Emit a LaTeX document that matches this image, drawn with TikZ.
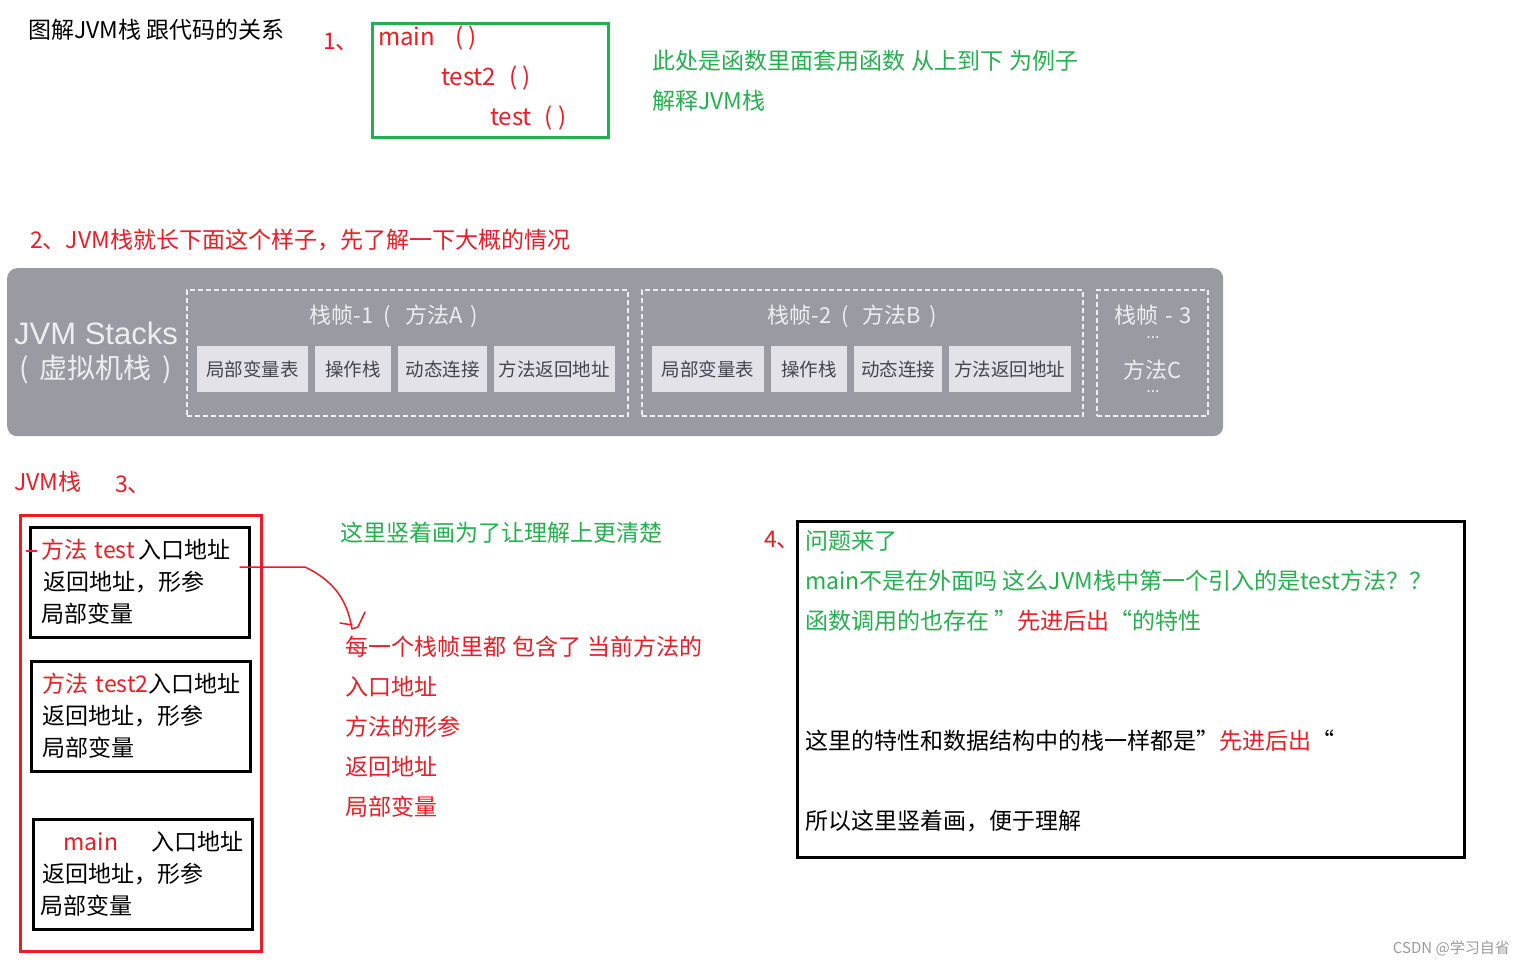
\documentclass[tikz,border=0pt]{standalone}
\usepackage{fontspec}
\setmainfont{Noto Sans CJK SC}
\newfontfamily\arialfont{Liberation Sans}
\usepackage{tikz}
\usetikzlibrary{positioning, calc}
\definecolor{paintred}{HTML}{ED1C24}
\definecolor{paintgreen}{HTML}{22B14C}
\definecolor{stackgray}{HTML}{9A9AA3}
\definecolor{cellgray}{HTML}{E2E2E8}
\definecolor{celltext}{HTML}{45454F}
\definecolor{fadewhite}{HTML}{EEEEF2}
\definecolor{markgray}{HTML}{9A9A9A}

\tikzset{
  txt/.style={inner sep=0pt, anchor=west, font=\fontsize{23}{28}\selectfont},
  cell/.style={fill=cellgray, text=celltext, minimum height=46pt, inner sep=0pt, font=\fontsize{18.5}{20}\selectfont},
  dashframe/.style={draw=fadewhite, line width=1.3pt, dash pattern=on 5pt off 3pt, minimum width=441pt, minimum height=126pt, inner sep=0pt},
  frametitle/.style={text=fadewhite, inner sep=0pt, font=\fontsize{22}{24}\selectfont},
  stackbox/.style={draw=black, line width=3pt, minimum width=219pt, minimum height=110pt, text width=197pt, inner xsep=11pt, align=left, font=\fontsize{23}{32}\selectfont},
  handline/.style={draw=paintred, line width=1.5pt, line cap=round, line join=round},
}

\begin{document}
\begin{tikzpicture}[x=1pt, y=-1pt]
\useasboundingbox (0,0) rectangle (1526,967);

% 1. call order
\node[txt] (title) at (28,30) {图解JVM栈 跟代码的关系};
\node[txt, text=paintred] (stepone) at (323,42) {1、};
\node[draw=paintgreen, line width=3pt, minimum width=236pt, minimum height=114pt, inner sep=0pt, anchor=north west] (callbox) at (371,22) {};
\node[txt, text=paintred, font=\fontsize{24}{28}\selectfont] (callmain) at (378,38) {main\hspace{20pt}( )};
\node[txt, text=paintred, font=\fontsize{24}{28}\selectfont] (calltesttwo) at (441,78) {test2\hspace{13pt}( )};
\node[txt, text=paintred, font=\fontsize{24}{28}\selectfont] (calltest) at (490,118) {test\hspace{13pt}( )};
\node[txt, text=paintgreen, align=left, anchor=north west, font=\fontsize{23}{40}\selectfont] (callnote) at (652,50) {此处是函数里面套用函数\hspace{6pt}从上到下\hspace{6pt}为例子\\解释JVM栈};

% 2. JVM stacks overview
\node[txt, text=paintred] (steptwo) at (30,240) {2、JVM栈就长下面这个样子，先了解一下大概的情况};
\node[fill=stackgray, rounded corners=10pt, minimum width=1216pt, minimum height=168pt, inner sep=0pt, anchor=north west] (stacks) at (7,268) {};
\node[text=fadewhite, align=center, inner sep=0pt, font=\fontsize{28}{34}\selectfont] (stackname) at (96,353) {{\arialfont\fontsize{31}{34}\selectfont JVM Stacks}\\(\hspace{11pt}虚拟机栈\hspace{11pt})};

\node[dashframe] (frameA) at (407.5,353) {};
\node[frametitle] (titleA) at (394,316) {栈帧-1\hspace{10pt}(\hspace{14pt}方法A\hspace{8pt})};
\node[cell, minimum width=111pt, anchor=west] (localA) at (197,369) {局部变量表};
\node[cell, minimum width=76pt, right=6.5pt of localA] (opA) {操作栈};
\node[cell, minimum width=89pt, right=6.5pt of opA] (linkA) {动态连接};
\node[cell, minimum width=121pt, right=6.5pt of linkA] (retA) {方法返回地址};

\node[dashframe] (frameB) at (862.5,353) {};
\node[frametitle] (titleB) at (852,316) {栈帧-2\hspace{10pt}(\hspace{14pt}方法B\hspace{8pt})};
\node[cell, minimum width=112pt, anchor=west] (localB) at (652,369) {局部变量表};
\node[cell, minimum width=76pt, right=6.5pt of localB] (opB) {操作栈};
\node[cell, minimum width=88pt, right=6.5pt of opB] (linkB) {动态连接};
\node[cell, minimum width=122pt, right=6.5pt of linkB] (retB) {方法返回地址};

\node[dashframe, minimum width=111pt] (frameC) at (1152.5,353) {};
\node[frametitle] (titleC) at (1153,315) {栈帧\hspace{7pt}-\hspace{7pt}3};
\node[frametitle, font=\fontsize{16}{16}\selectfont] (dotsC) at (1153,338) {...};
\node[frametitle] (methodC) at (1153,370) {方法C};
\node[frametitle, font=\fontsize{16}{16}\selectfont] (dotsCC) at (1153,392) {...};

% 3. drawn upright
\node[txt, text=paintred] (stackword) at (14,482) {JVM栈};
\node[txt, text=paintred] (stepthree) at (115,485) {3、};
\node[draw=paintred, line width=3pt, minimum width=241pt, minimum height=436pt, inner sep=0pt, anchor=north west] (stackframe) at (19,514) {};

\node[stackbox] (boxtest) at (139.5,582) {\mbox{{\color{paintred}方法 test}\,入口地址}\\\hspace*{2pt}返回地址，形参\\局部变量};
\node[stackbox] (boxtesttwo) at (140.5,716) {\mbox{{\color{paintred}方法 test2}入口地址}\\\mbox{返回地址，形参}\\局部变量};
\node[stackbox] (boxmain) at (143,874) {\mbox{\hspace*{19pt}{\color{paintred}main}\hspace{33pt}入口地址}\\\mbox{\hspace*{-2pt}返回地址，形参}\\\hspace*{-4pt}局部变量};

\node[txt, text=paintgreen] (uprightnote) at (340,533) {这里竖着画为了让理解上更清楚};
\node[txt, text=paintred, align=left, anchor=north west, font=\fontsize{23}{40}\selectfont] (framelist) at (345,636) {每一个栈帧里都\hspace{6pt}包含了\hspace{6pt}当前方法的\\入口地址\\方法的形参\\返回地址\\局部变量};

% hand drawn hook
\coordinate (linkstart) at (240,567);
\coordinate (linkbend) at (305,567);
\coordinate (linktip) at (352,629);
\coordinate (hookend) at (365,612);
\draw[handline] (linkstart) -- (linkbend) .. controls (332,580) and (347,598) .. (linktip) -- (358,627) -- (hookend);
\draw[handline] ($(linktip)+(-12,-6)$) -- ($(linktip)+(0,-4)$);
\draw[handline] ($(boxtest.west)+(-2,-31)$) -- ($(boxtest.west)+(8,-31)$);

% 4. question
\node[txt, text=paintred] (stepfour) at (764,540) {4、};
\node[draw=black, line width=3pt, minimum width=667pt, minimum height=336pt, inner sep=0pt, anchor=north west] (qbox) at (796,520) {};
\node[txt, align=left, anchor=north west, font=\fontsize{23}{40}\selectfont] (qtext) at (805,530) {{\color{paintgreen}问题来了}\\
{\color{paintgreen}main不是在外面吗 这么JVM栈中第一个引入的是test方法？？}\\
{\color{paintgreen}函数调用的也存在 ”}{\color{paintred}先进后出}{\color{paintgreen} “的特性}\\[80pt]
这里的特性和数据结构中的栈一样都是”{\color{paintred}先进后出}“\\[40pt]
所以这里竖着画，便于理解};

\node[text=markgray, inner sep=0pt, anchor=east, font=\fontsize{15}{16}\selectfont] (mark) at (1510,948) {CSDN @学习自省};
\end{tikzpicture}
\end{document}
